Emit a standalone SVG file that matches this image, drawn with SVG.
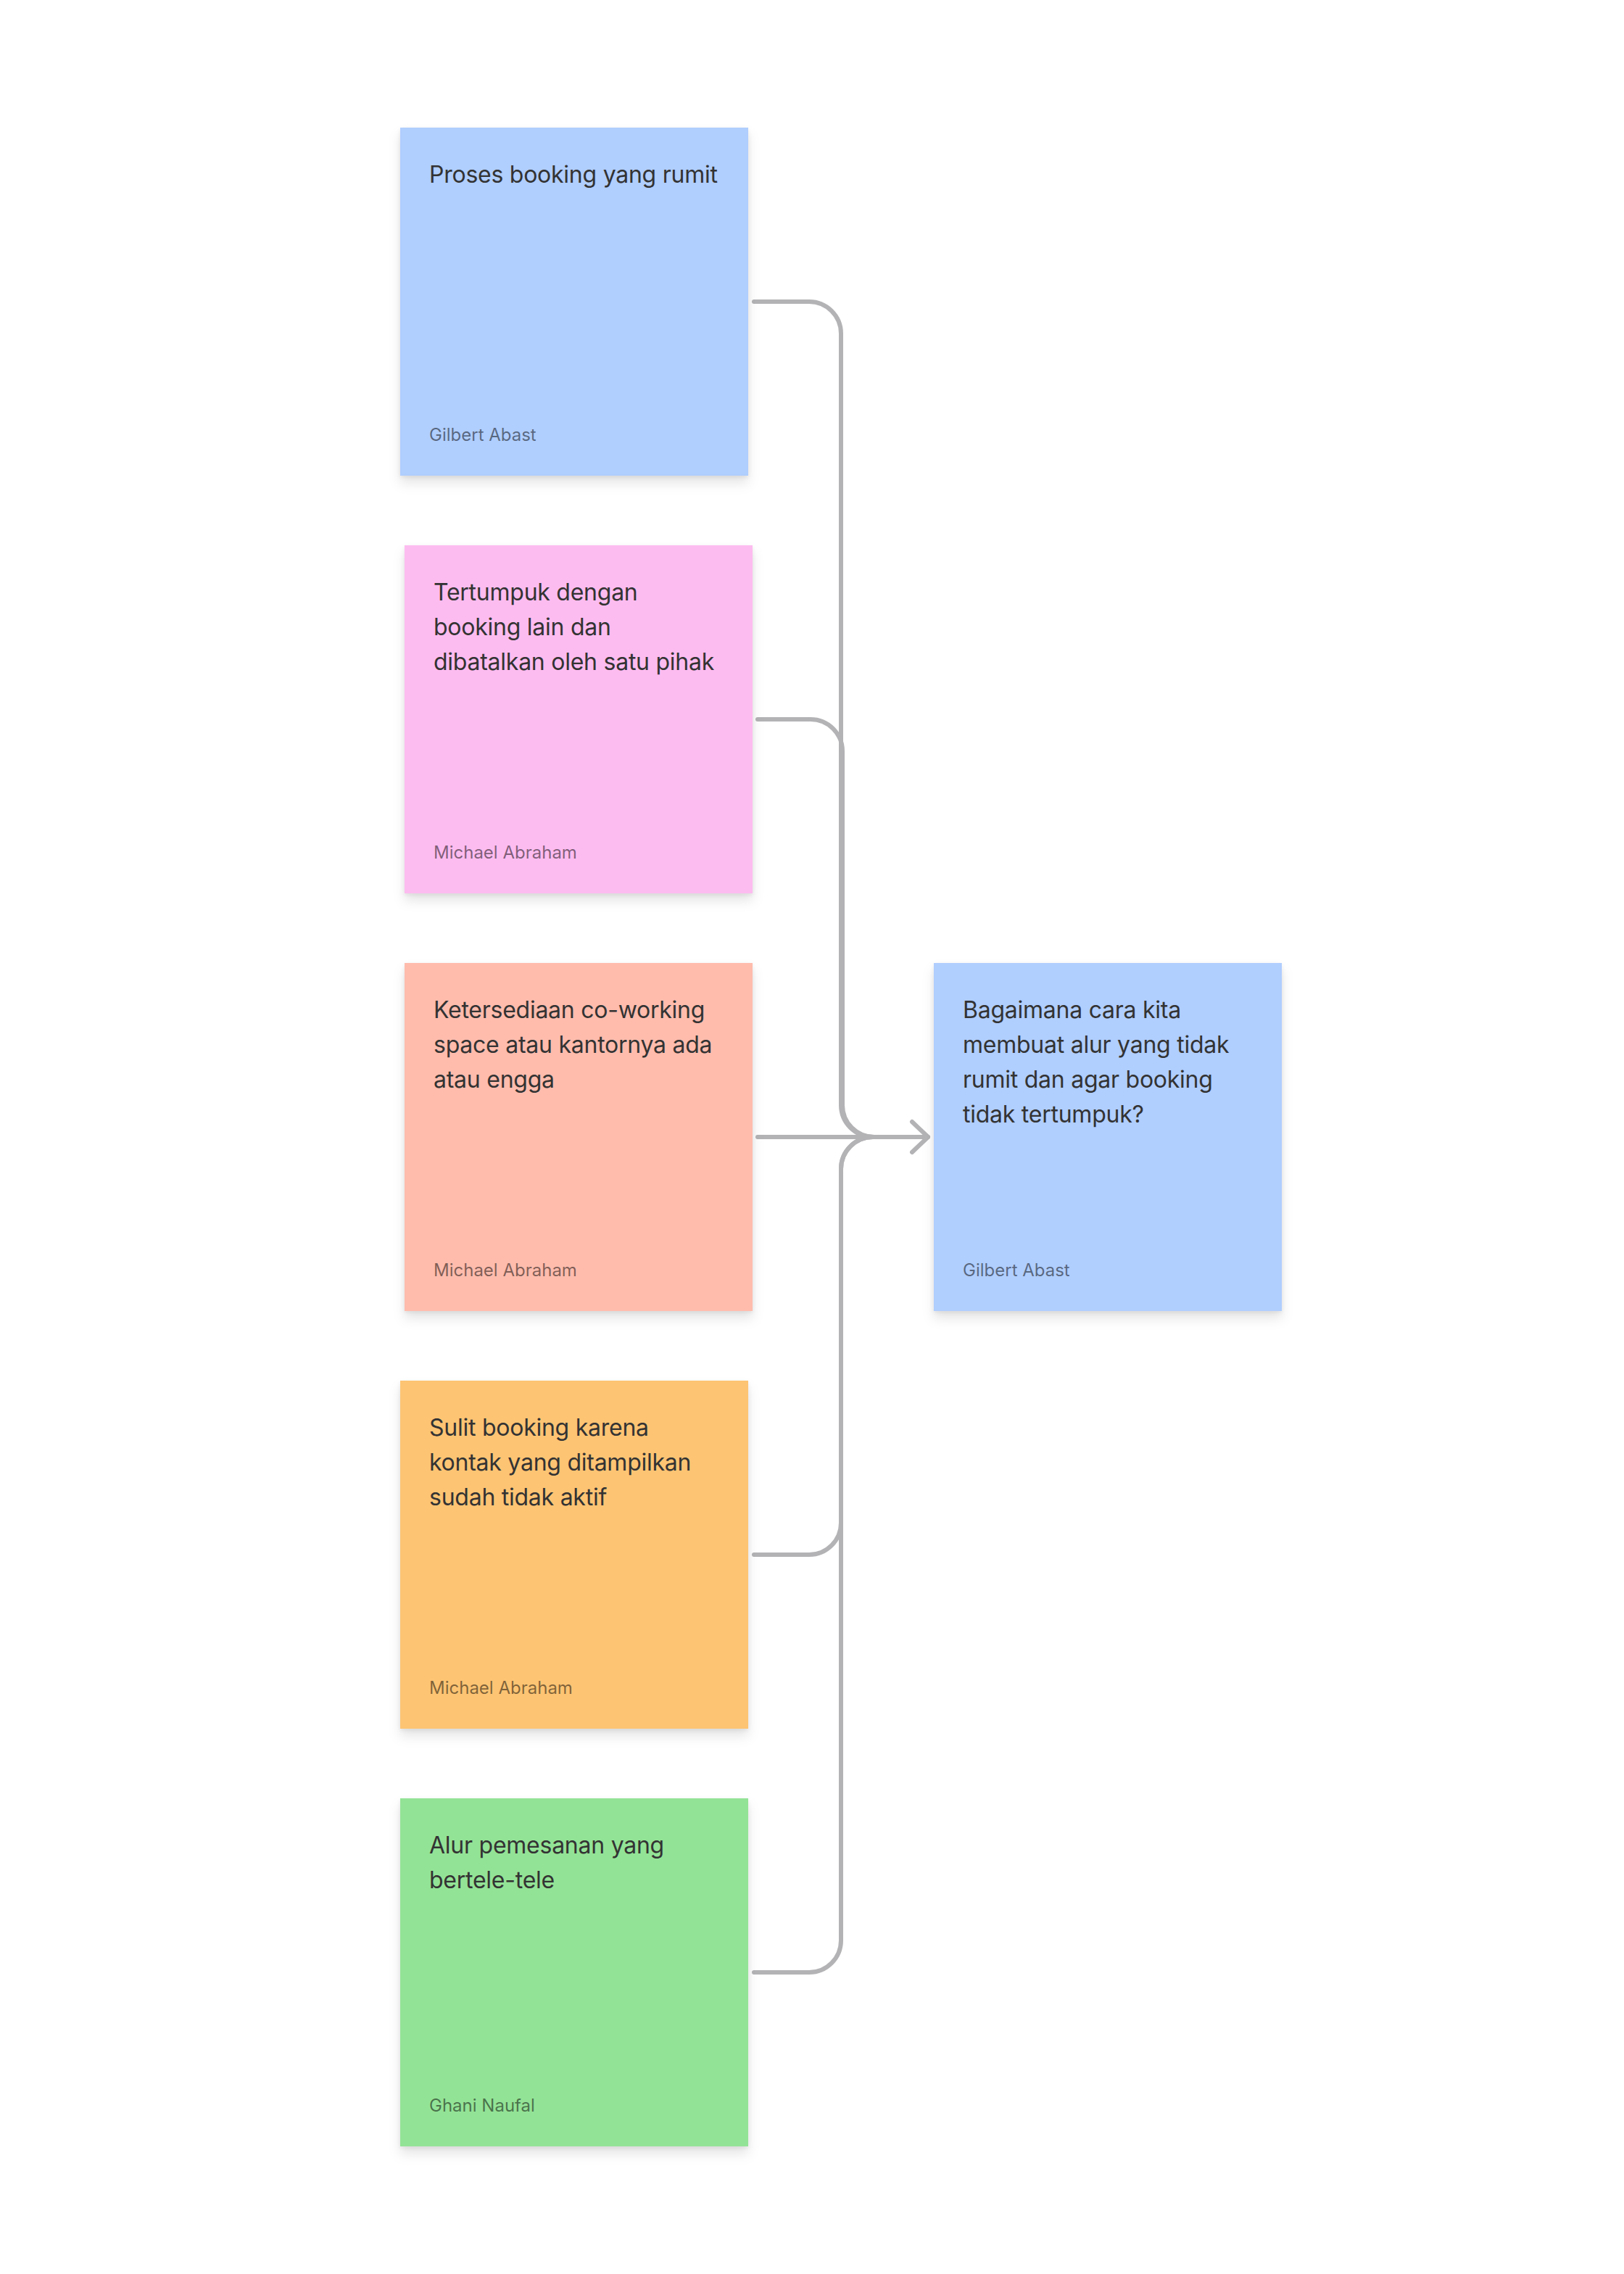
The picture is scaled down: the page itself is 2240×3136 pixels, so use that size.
<svg xmlns="http://www.w3.org/2000/svg" width="2240" height="3136" viewBox="0 0 2240 3136">
<style>
.body{font-family:Inter,"Noto Sans","Liberation Sans",sans-serif;font-size:32px;letter-spacing:-0.25px;fill:#333333}
.author{font-family:Inter,"Noto Sans","Liberation Sans",sans-serif;font-size:24px;fill:#000000;fill-opacity:0.5}
.conn{fill:none;stroke:#b3b2b5;stroke-width:6;stroke-linecap:round;stroke-linejoin:round}
.blue{fill:#b0cefe}
.pink{fill:#fdbcf0}
.salmon{fill:#ffbcad}
.orange{fill:#fdc473}
.green{fill:#93e396}
</style>
<defs>
<filter id="shadow" x="-10%" y="-10%" width="120%" height="125%">
<feDropShadow dx="0" dy="2" stdDeviation="3" flood-color="#000" flood-opacity="0.08"/>
<feDropShadow dx="0" dy="10" stdDeviation="8" flood-color="#000" flood-opacity="0.1"/>
</filter>
<marker id="arrow" viewBox="0 0 30 50" refX="26" refY="25" markerWidth="30" markerHeight="50" markerUnits="userSpaceOnUse" orient="auto">
<path d="M4,4 L26,25 L4,46" fill="none" stroke="#b3b2b5" stroke-width="6" stroke-linecap="round" stroke-linejoin="round"/>
</marker>
</defs>
<rect width="2240" height="3136" fill="#ffffff"/>

<g id="connectors">
<path class="conn" d="M1040,416 H1116 A44,44 0 0 1 1160,460 V1524 A44,44 0 0 0 1204,1568 H1278"/>
<path class="conn" d="M1045,992 H1118 A44,44 0 0 1 1162,1036 V1524 A44,44 0 0 0 1206,1568 H1278"/>
<path class="conn" d="M1040,2144 H1116 A44,44 0 0 0 1160,2100 V1612 A44,44 0 0 1 1204,1568 H1278"/>
<path class="conn" d="M1040,2720 H1116 A44,44 0 0 0 1160,2676 V1612 A44,44 0 0 1 1204,1568 H1278"/>
<path class="conn" d="M1045,1568 H1280" marker-end="url(#arrow)"/>
</g>

<g id="sticky-1">
<rect class="blue" x="552" y="176" width="480" height="480" filter="url(#shadow)"/>
<text class="body" x="592" y="252">Proses booking yang rumit</text>
<text class="author" x="592" y="608">Gilbert Abast</text>
</g>

<g id="sticky-2">
<rect class="pink" x="558" y="752" width="480" height="480" filter="url(#shadow)"/>
<text class="body" x="598" y="828">Tertumpuk dengan</text>
<text class="body" x="598" y="876">booking lain dan</text>
<text class="body" x="598" y="924">dibatalkan oleh satu pihak</text>
<text class="author" x="598" y="1184">Michael Abraham</text>
</g>

<g id="sticky-3">
<rect class="salmon" x="558" y="1328" width="480" height="480" filter="url(#shadow)"/>
<text class="body" x="598" y="1404">Ketersediaan co-working</text>
<text class="body" x="598" y="1452">space atau kantornya ada</text>
<text class="body" x="598" y="1500">atau engga</text>
<text class="author" x="598" y="1760">Michael Abraham</text>
</g>

<g id="sticky-4">
<rect class="orange" x="552" y="1904" width="480" height="480" filter="url(#shadow)"/>
<text class="body" x="592" y="1980">Sulit booking karena</text>
<text class="body" x="592" y="2028">kontak yang ditampilkan</text>
<text class="body" x="592" y="2076">sudah tidak aktif</text>
<text class="author" x="592" y="2336">Michael Abraham</text>
</g>

<g id="sticky-5">
<rect class="green" x="552" y="2480" width="480" height="480" filter="url(#shadow)"/>
<text class="body" x="592" y="2556">Alur pemesanan yang</text>
<text class="body" x="592" y="2604">bertele-tele</text>
<text class="author" x="592" y="2912">Ghani Naufal</text>
</g>

<g id="target">
<rect class="blue" x="1288" y="1328" width="480" height="480" filter="url(#shadow)"/>
<text class="body" x="1328" y="1404">Bagaimana cara kita</text>
<text class="body" x="1328" y="1452">membuat alur yang tidak</text>
<text class="body" x="1328" y="1500">rumit dan agar booking</text>
<text class="body" x="1328" y="1548">tidak tertumpuk?</text>
<text class="author" x="1328" y="1760">Gilbert Abast</text>
</g>
</svg>
